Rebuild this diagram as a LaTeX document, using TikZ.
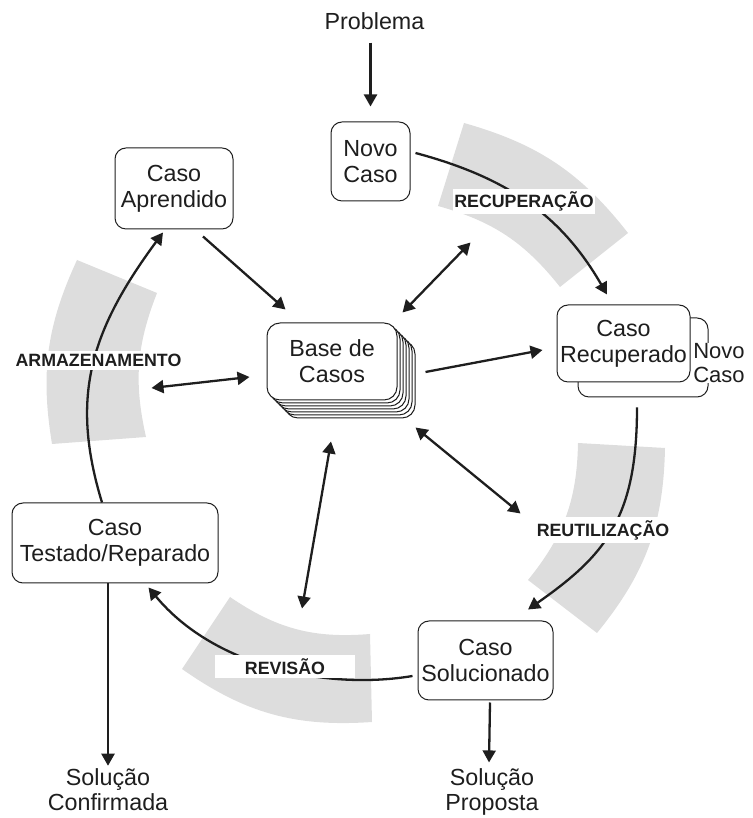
\documentclass[tikz,border=0pt]{standalone}
\usepackage{fontspec}
\setmainfont{Liberation Sans}
\usetikzlibrary{arrows.meta,calc}
\definecolor{band}{HTML}{DDDDDD}
\definecolor{ink}{HTML}{1E1E1E}
\begin{document}
\begin{tikzpicture}[x=1pt,y=1pt,
  box/.style={draw=ink, line width=1pt, rounded corners=11pt, fill=white, align=center,
    font=\fontsize{23.3}{26}\selectfont, text=ink, inner sep=0pt},
  txt/.style={align=center, font=\fontsize{23.3}{25}\selectfont, text=ink, inner sep=0pt},
  lab/.style={fill=white, font=\bfseries\fontsize{17.8}{20}\selectfont, text=ink,
    inner xsep=1.5pt, inner ysep=3pt},
  arr/.style={draw=ink, line width=2.3pt, -{Triangle[length=12pt,width=13pt]}},
  darr/.style={draw=ink, line width=2.3pt,
    {Triangle[length=12pt,width=13pt]}-{Triangle[length=12pt,width=13pt]}}
]
\useasboundingbox (0,0) rectangle (752,818);

% grey bands of the cycle
\fill[band] (464,695) to[bend left=18] (628,585) -- (560,531) to[bend right=18] (438,612) -- cycle;
\fill[band] (665,370) to[bend left=19] (597,185) -- (528,238) to[bend right=19] (578,375) -- cycle;
\fill[band] (372,96) to[bend left=19.5] (182,149) -- (230,221) to[bend right=19.5] (370,184) -- cycle;
\fill[band] (52,374) to[bend left=17] (77,558) -- (157,525) to[bend right=17] (146,381) -- cycle;

% nodes
\node[txt] (prob) at (374.5,797) {Problema};
\node[box, minimum width=79pt, minimum height=79pt] (novo) at (370.5,656.5) {Novo\\Caso};
\node[box, minimum width=118pt, minimum height=81pt] (aprend) at (174,629.5) {Caso\\Aprendido};
\foreach \k in {6,5,...,1}
  \node[box, minimum width=130pt, minimum height=77pt, rounded corners=13pt] (layer\k) at ({332+3*\k},{456.5-3*\k}) {};
\node[box, minimum width=130pt, minimum height=77pt, rounded corners=13pt] (base) at (332,456.5) {Base de\\Casos};
\node[box, minimum width=130pt, minimum height=79pt] (recback) at (643,460.5) {};
\node[box, minimum width=133pt, minimum height=77pt] (recup) at (623.5,474.5) {Caso\\Recuperado};
\node[txt, fill=white, font=\fontsize{22}{24}\selectfont] (novo2) at (719,455) {Novo\\Caso};
\node[box, minimum width=206pt, minimum height=80pt] (test) at (115,275) {Caso\\Testado/Reparado};
\node[box, minimum width=135pt, minimum height=79pt] (sol) at (485.5,157.5) {Caso\\Solucionado};
\node[txt] (prop) at (492,26) {Solução\\Proposta};
\node[txt] (conf) at (108,28) {Solução\\Confirmada};

% straight connectors
\draw[arr, shorten <=13pt, shorten >=15pt] (prob.south -| novo.north) -- (novo.north);
\draw[arr] ($(aprend.south)+(29,-7)$) -- ($(base.north west)+(19,13)$);
\draw[darr] ($(base.north east)+(5,10)$) -- ($(base.north east)+(73,80)$);
\draw[arr] ($(base.east)+(28,-10.5)$) -- ($(recup.west)+(-14,-6.5)$);
\draw[darr] ($(base.west)+(-115,-26.5)$) -- ($(base.west)+(-17,-15.5)$);
\draw[darr] ($(base.south east)+(18,-27)$) -- ($(base.south east)+(123,-113)$);
\draw[darr] ($(base.south)+(-1,-41)$) -- ($(base.south)+(-30,-208)$);
\draw[arr] ($(sol.south)+(4.5,-2)$) -- ($(prop.north)+(-3,6)$);
\draw[arr] ($(test.south)+(-7,0)$) -- ($(conf.north)+(0,3)$);

% cycle connectors
\draw[arr] ($(novo.east)+(5,8.5)$) to[out=-15,in=120] ($(recup.north)+(-16.5,10)$);
\draw[arr] ($(recback.south)+(-6,-10)$) .. controls +(0,-111) and +(77,54) .. ($(sol.north)+(42.5,11)$);
\draw[arr] ($(sol.west)+(-5,-15.5)$) .. controls +(-83,-14) and +(67,-81) .. ($(test.south east)+(-70,-4)$);
\draw[arr] ($(test.north)+(-13,0)$) .. controls +(-32,105) and +(-73,-99) .. ($(aprend.south)+(-11,-3)$);

% phase labels
\node[lab] (lrec) at (524,616.5) {RECUPERAÇÃO};
\node[lab] (larm) at (98.5,457.5) {ARMAZENAMENTO};
\node[lab] (lreu) at (603,288) {REUTILIZAÇÃO};
\node[lab, minimum width=140pt, minimum height=23pt] (lrev) at (285,151.5) {REVISÃO};
\end{tikzpicture}
\end{document}
